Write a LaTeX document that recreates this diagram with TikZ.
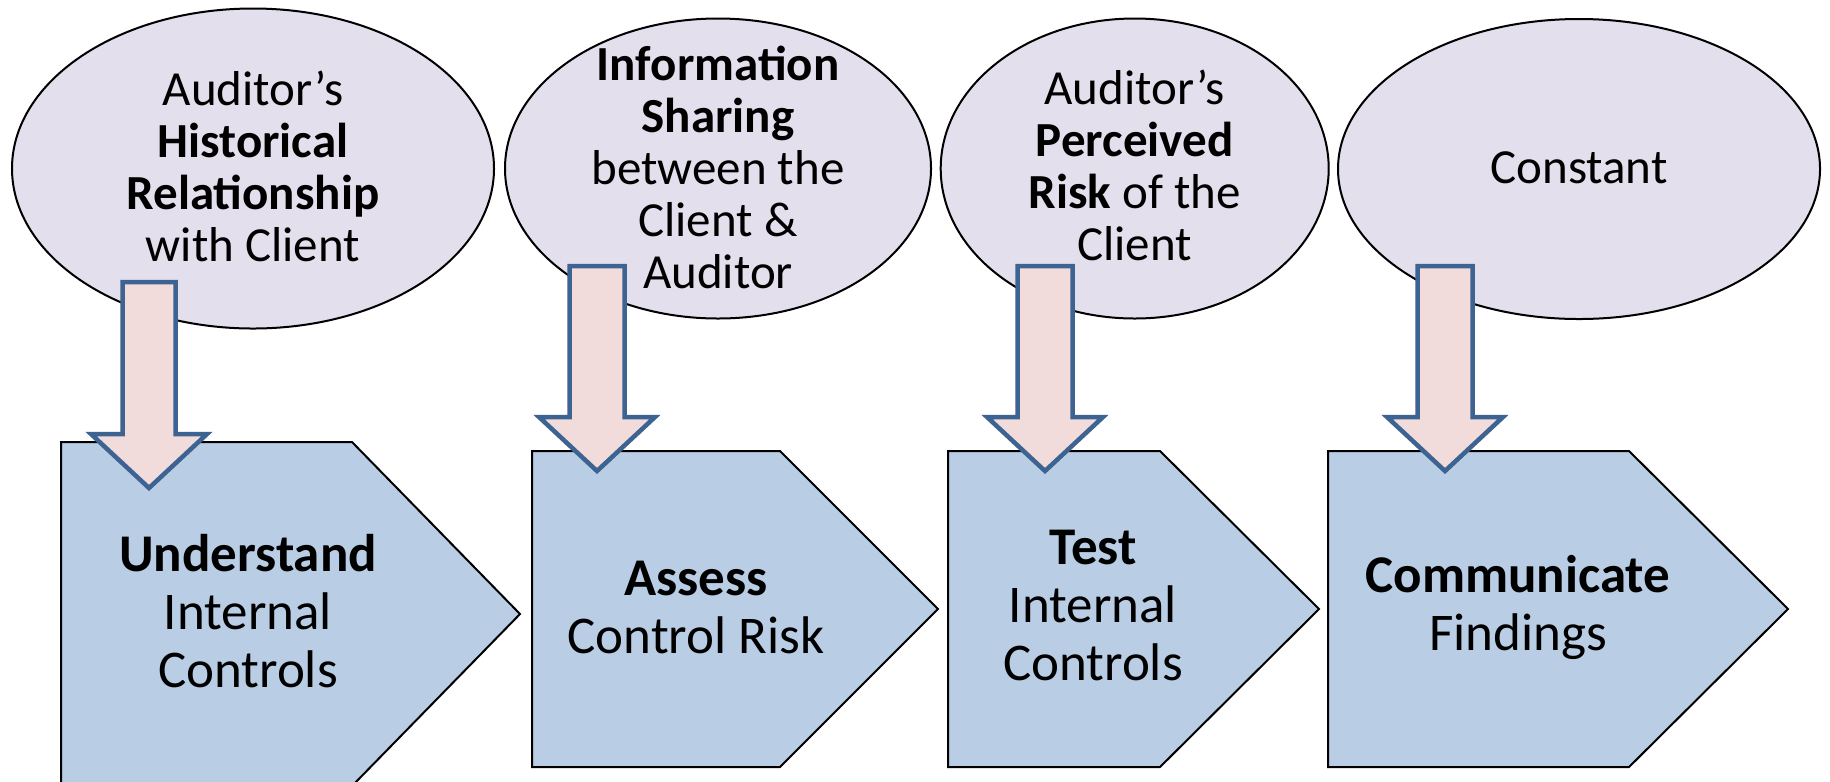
\documentclass[tikz,border=0pt]{standalone}
\usepackage{fontspec}
\setmainfont{Carlito}
\usetikzlibrary{shapes.geometric}
\definecolor{ellfill}{HTML}{E4DFEC}
\definecolor{pentfill}{HTML}{B9CDE5}
\definecolor{arrfill}{HTML}{F2DCDB}
\definecolor{arrline}{HTML}{3C6391}
\tikzset{
  bubble/.style={ellipse, draw=black, line width=0.8pt, fill=ellfill, inner sep=0pt},
  bubbletext/.style={anchor=base, align=center, inner sep=0pt, font=\fontsize{19.6}{20.8}\selectfont},
  pentbox/.style={draw=black, line width=0.8pt, fill=pentfill, line join=miter},
  penttext/.style={anchor=base, align=center, inner sep=0pt, font=\fontsize{21.2}{23.2}\selectfont},
  blockarrow/.style={draw=arrline, line width=1.8pt, fill=arrfill, line join=miter}
}
\newcommand{\ellnode}[5]{% name, cx, cy, rx, ry
  \node[bubble, minimum width=#4*0.8pt, minimum height=#5*0.8pt] (#1) at (#2,#3) {};}
\newcommand{\blkarrow}[5]{% name, cx, top, tip, shaft half-width
  \coordinate (#1top) at (#2,#3);
  \coordinate (#1tip) at (#2,#4);
  \draw[blockarrow] (#2-#5,#3) -- (#2+#5,#3) -- (#2+#5,#4-54) -- (#2+58,#4-54)
    -- (#1tip) -- (#2-58,#4-54) -- (#2-#5,#4-54) -- cycle;}
\newcommand{\pentagonbox}[7]{% name, left, top, corner, pointx, pointy, bottom
  \coordinate (#1point) at (#5,#6);
  \draw[pentbox] (#2,#3) -- (#4,#3) -- (#1point) -- (#4,#7) -- (#2,#7) -- cycle;}
\begin{document}
\begin{tikzpicture}[x=0.4pt,y=-0.4pt]
\useasboundingbox (0,0) rectangle (1830,781);
\clip (0,0) rectangle (1830,781);
\fill[white] (0,0) rectangle (1830,781);
% influence bubbles
\ellnode{e1}{253}{168.5}{241}{160}
\ellnode{e2}{718}{168.5}{213}{150}
\ellnode{e3}{1134.7}{168.5}{194}{150}
\ellnode{e4}{1579}{169}{241}{150}
\node[bubbletext] (t1) at (253,261) {Auditor’s\\\textbf{Historical}\\\textbf{Relationship}\\with Client};
\node[bubbletext] (t2) at (718,288) {\textbf{Information}\\\textbf{Sharing}\\between the\\Client \&\\Auditor};
\node[bubbletext] (t3) at (1134.7,260) {Auditor’s\\\textbf{Perceived}\\\textbf{Risk} of the\\Client};
\node[bubbletext] (t4) at (1579,183) {Constant};
% process steps
\pentagonbox{p1}{61}{442}{352}{520}{614}{786}
\pentagonbox{p2}{532}{451}{780}{938}{609}{767}
\pentagonbox{p3}{948}{451}{1160}{1319}{609}{767}
\pentagonbox{p4}{1328}{451}{1629}{1788}{609}{767}
\node[penttext] (s1) at (248,687) {\textbf{Understand}\\Internal\\Controls};
\node[penttext] (s2) at (696,653) {\textbf{Assess}\\Control Risk};
\node[penttext] (s3) at (1093,680) {\textbf{Test}\\Internal\\Controls};
\node[penttext] (s4) at (1518,650) {\textbf{Communicate}\\Findings};
% block arrows
\blkarrow{a1}{149}{282}{488}{26.5}
\blkarrow{a2}{597}{266}{471}{27.5}
\blkarrow{a3}{1045}{266}{471}{27.5}
\blkarrow{a4}{1445}{266}{471}{27.5}
\end{tikzpicture}
\end{document}
